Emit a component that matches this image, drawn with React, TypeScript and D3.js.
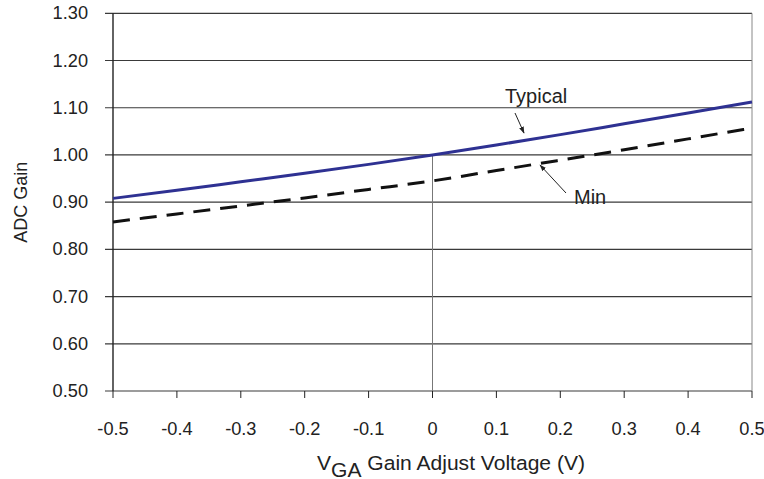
import React from "react";
import * as d3 from "d3";

const xValues = [-0.5, -0.4, -0.3, -0.2, -0.1, 0, 0.1, 0.2, 0.3, 0.4, 0.5];
const typicalGain = [0.908, 0.925, 0.943, 0.961, 0.98, 1.0, 1.021, 1.043, 1.066, 1.089, 1.112];
const minGain = [0.858, 0.875, 0.892, 0.909, 0.927, 0.945, 0.967, 0.989, 1.011, 1.034, 1.057];
const yTicks = [0.5, 0.6, 0.7, 0.8, 0.9, 1.0, 1.1, 1.2, 1.3];
const xTicks = [-0.5, -0.4, -0.3, -0.2, -0.1, 0, 0.1, 0.2, 0.3, 0.4, 0.5];

const W = 764;
const H = 479;
const L = 113;
const R = 752;
const T = 13.3;
const B = 391;

export default function App() {
  const x = d3.scaleLinear().domain([-0.5, 0.5]).range([L, R]);
  const y = d3.scaleLinear().domain([0.5, 1.3]).range([B, T]);
  const line = d3
    .line<number>()
    .x((_, i) => x(xValues[i]))
    .y((d) => y(d))
    .curve(d3.curveMonotoneX);
  const font = "'Liberation Sans', Arial, sans-serif";
  const xFmt = (v: number) => (v === 0 ? "0" : v.toFixed(1));
  const titleX = 451;
  return (
    <svg
      width={W}
      height={H}
      style={{ position: "absolute", left: 0, top: 0, background: "#fff" }}
      fontFamily={font}
    >
      <defs>
        <marker id="ah" viewBox="0 0 10 10" refX="9" refY="5" markerWidth="7" markerHeight="7" orient="auto">
          <path d="M0,1.5 L10,5 L0,8.5 Z" fill="#222" />
        </marker>
      </defs>
      {yTicks.map((t) => (
        <line key={"g" + t} x1={L - 8} x2={R} y1={y(t)} y2={y(t)} stroke="#3a3a3a" strokeWidth={1.2} />
      ))}
      <line x1={L} x2={L} y1={T} y2={B} stroke="#222" strokeWidth={1.4} />
      <line x1={R} x2={R} y1={T} y2={B} stroke="#888" strokeWidth={1} />
      <line x1={x(0)} x2={x(0)} y1={y(1.0)} y2={B} stroke="#777" strokeWidth={1} />
      {xTicks.map((t) => (
        <line key={"xt" + t} x1={x(t)} x2={x(t)} y1={B} y2={B + 7} stroke="#222" strokeWidth={1} />
      ))}
      {yTicks.map((t) => (
        <text key={"yl" + t} x={88} y={y(t) + 6} textAnchor="end" fontSize={18.2} fill="#222">
          {t.toFixed(2)}
        </text>
      ))}
      {xTicks.map((t) => (
        <text key={"xl" + t} x={x(t)} y={435} textAnchor="middle" fontSize={18.2} fill="#222">
          {xFmt(t)}
        </text>
      ))}
      <path d={line(minGain) || ""} fill="none" stroke="#111" strokeWidth={3} strokeDasharray="17,10" />
      <path d={line(typicalGain) || ""} fill="none" stroke="#2E3192" strokeWidth={3} />
      <text x={505} y={103} fontSize={20} fill="#222">Typical</text>
      <line x1={515} y1={113} x2={524} y2={133} stroke="#222" strokeWidth={1} markerEnd="url(#ah)" />
      <text x={574} y={204} fontSize={20} fill="#222">Min</text>
      <line x1={566} y1={193} x2={540} y2={165} stroke="#222" strokeWidth={1} markerEnd="url(#ah)" />
      <text transform={`translate(27,${(T + B) / 2}) rotate(-90)`} textAnchor="middle" fontSize={18} fill="#222">
        ADC Gain
      </text>
      <g transform={`translate(${titleX},469.5) scale(1.08,1)`}>
        <text x={0} y={0} textAnchor="middle" fontSize={19.5} fill="#222">
          V<tspan dy={7}>GA</tspan>
          <tspan dy={-7}> Gain Adjust Voltage (V)</tspan>
        </text>
      </g>
    </svg>
  );
}
